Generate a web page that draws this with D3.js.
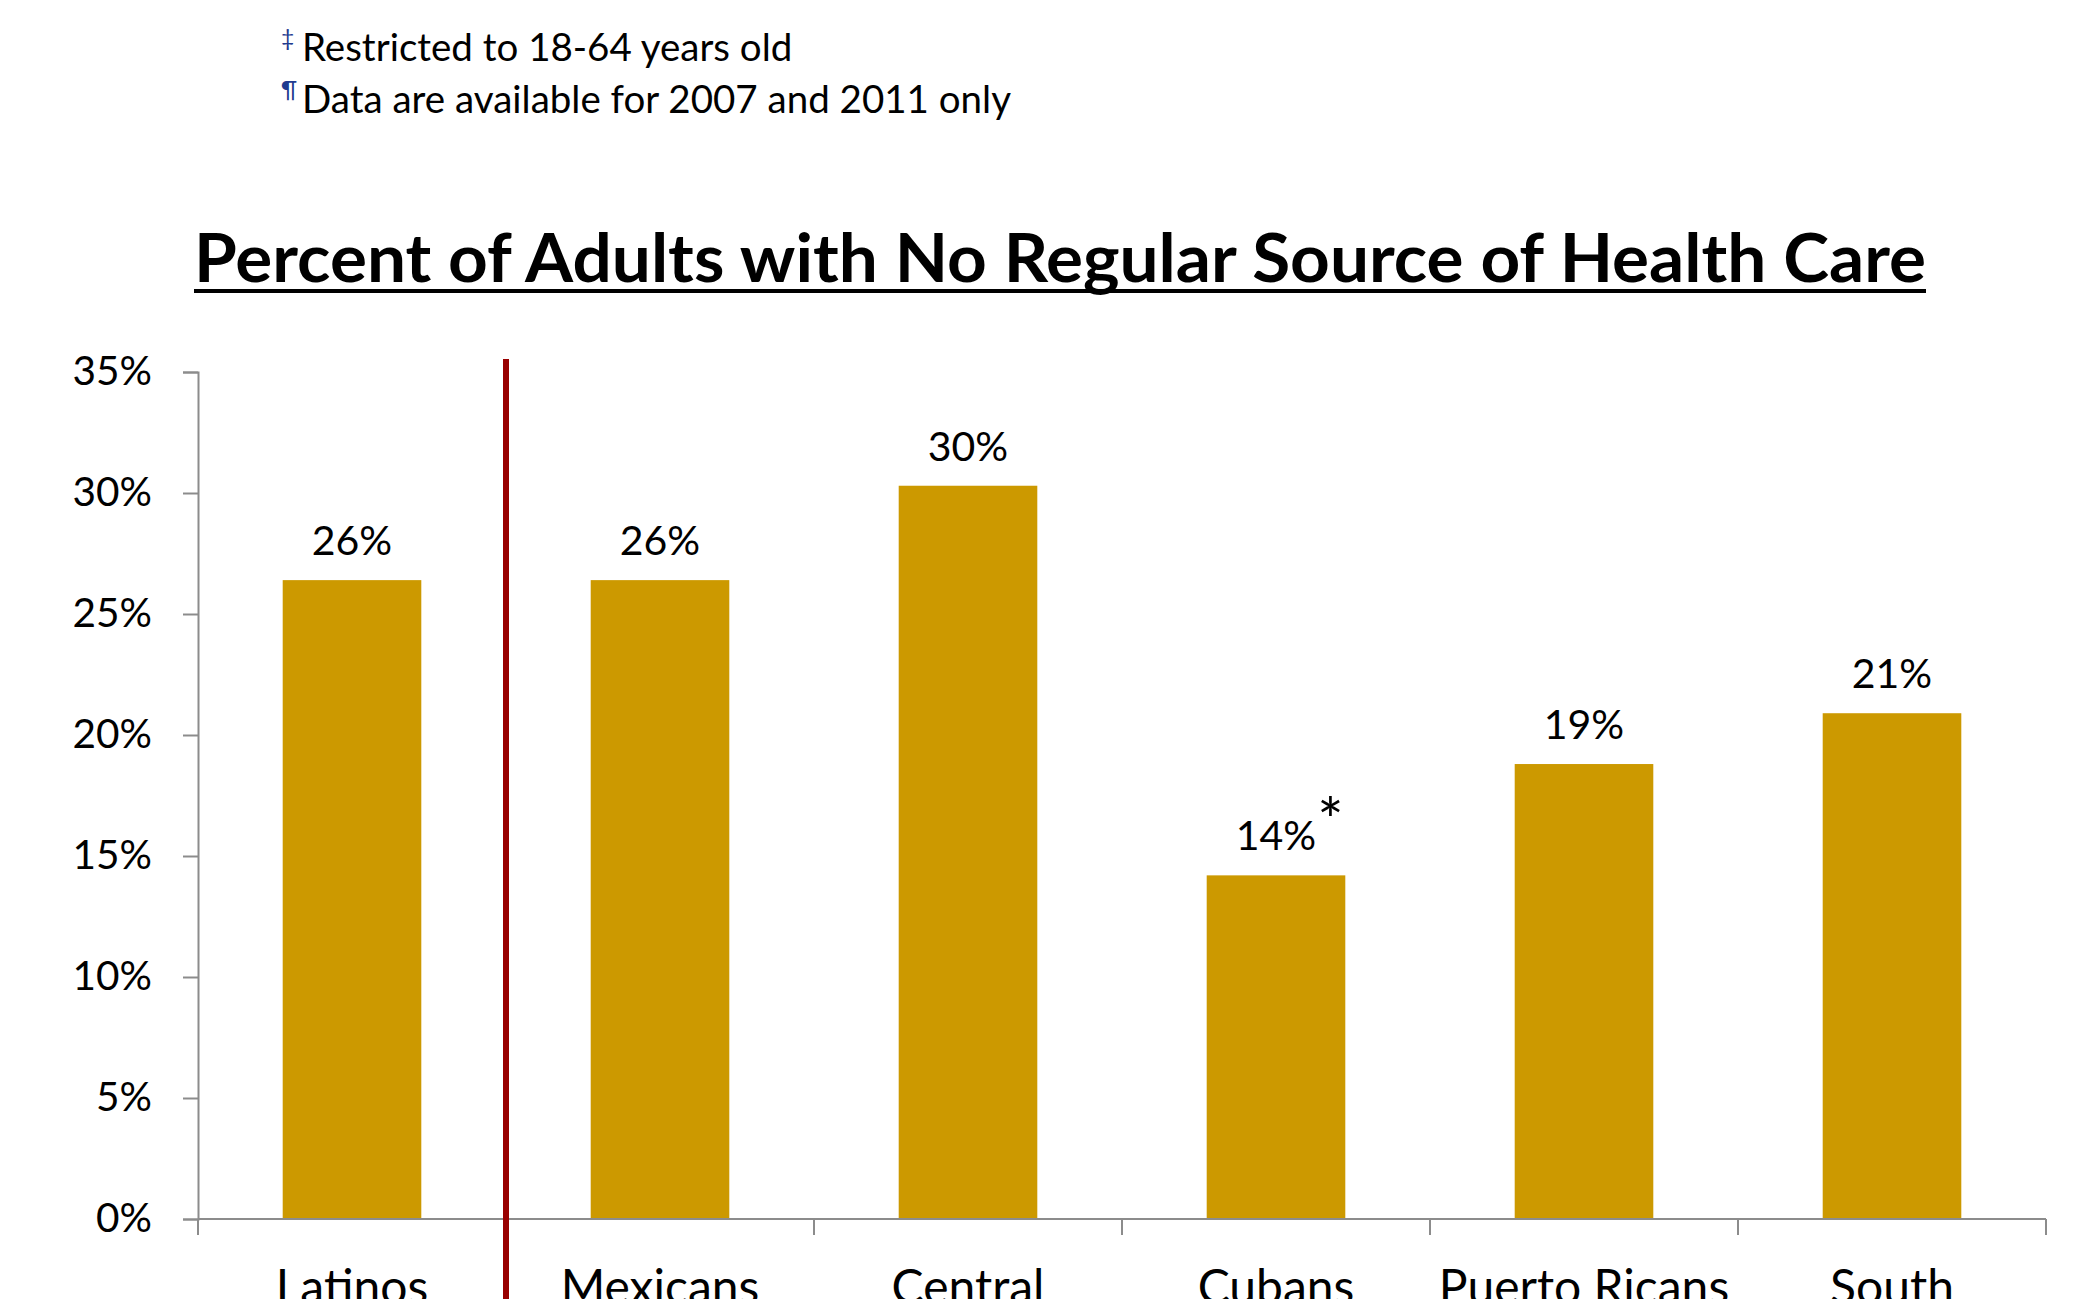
<!DOCTYPE html>
<html>
<head>
<meta charset="utf-8">
<script src="https://cdn.jsdelivr.net/npm/d3@7"></script>
<style>
  html, body { margin: 0; padding: 0; background: #fff; }
  svg { display: block; }
  text { font-family: Lato, "Open Sans", "Liberation Sans", sans-serif; }
</style>
</head>
<body>
<script>
// Percent of adults with no regular source of health care, by Latino subgroup
const categories = ["Latinos", "Mexicans", "Central American", "Cubans", "Puerto Ricans", "South American"];
const values = [26.4, 26.4, 30.3, 14.2, 18.8, 20.9];
const markers = ["", "", "", "*", "", ""];
const yTicks = [0, 5, 10, 15, 20, 25, 30, 35];
const notes = [
  { symbol: "\u2021", text: "Restricted to 18-64 years old" },
  { symbol: "\u00B6", text: "Data are available for 2007 and 2011 only" }
];
const title = "Percent of Adults with No Regular Source of Health Care";

const W = 2100, H = 1299;
const plot = { left: 198, right: 2046, top: 372, bottom: 1219 };
const barColor = "#CC9900";
const axisColor = "#8C8C8C";

const svg = d3.select("body").append("svg")
  .attr("width", W).attr("height", H);

// Footnotes
const noteG = svg.append("g");
notes.forEach((n, i) => {
  const base = 61 + i * 52;
  noteG.append("text")
    .attr("x", 281).attr("y", base - 15)
    .attr("font-size", 23).attr("fill", "#1F3B8F")
    .text(n.symbol);
  noteG.append("text")
    .attr("x", 302).attr("y", base)
    .attr("font-size", 38.5).attr("fill", "#000")
    .text(n.text);
});

// Title, underlined
svg.append("text")
  .attr("x", (194 + 1926) / 2).attr("y", 282)
  .attr("text-anchor", "middle")
  .attr("font-size", 66).attr("font-weight", 700)
  .attr("textLength", 1732).attr("lengthAdjust", "spacingAndGlyphs")
  .text(title);
svg.append("line")
  .attr("x1", 194).attr("x2", 1926)
  .attr("y1", 291).attr("y2", 291)
  .attr("stroke", "#000").attr("stroke-width", 4);

// Scales
const x = d3.scaleBand().domain(categories).range([plot.left, plot.right]).padding(0);
const y = d3.scaleLinear().domain([0, 35]).range([plot.bottom, plot.top]);
const barW = x.bandwidth() * 0.45;

// Y axis
const yAxis = svg.append("g")
  .attr("transform", `translate(${plot.left},0)`)
  .call(d3.axisLeft(y).tickValues(yTicks).tickFormat(d => d + "%").tickSize(15).tickPadding(31));
yAxis.select(".domain").attr("stroke", axisColor).attr("stroke-width", 2);
yAxis.selectAll(".tick line").attr("stroke", axisColor).attr("stroke-width", 2);
yAxis.selectAll(".tick text")
  .attr("font-size", 40.5).attr("fill", "#000")
  .attr("font-family", "Lato, 'Open Sans', sans-serif");

// Bars
svg.append("g").selectAll("rect")
  .data(categories)
  .join("rect")
  .attr("x", (d) => x(d) + (x.bandwidth() - barW) / 2)
  .attr("width", barW)
  .attr("y", (d, i) => y(values[i]))
  .attr("height", (d, i) => y(0) - y(values[i]))
  .attr("fill", barColor);

// X axis baseline and category boundary ticks
svg.append("line")
  .attr("x1", plot.left).attr("x2", plot.right)
  .attr("y1", y(0)).attr("y2", y(0))
  .attr("stroke", axisColor).attr("stroke-width", 2);
const boundaries = categories.map(c => x(c)).concat([x(categories[categories.length - 1]) + x.step()]);
svg.append("g").selectAll("line")
  .data(boundaries)
  .join("line")
  .attr("x1", d => d).attr("x2", d => d)
  .attr("y1", y(0)).attr("y2", y(0) + 16)
  .attr("stroke", axisColor).attr("stroke-width", 2);

// Category labels (two-line names wrap onto a second line)
const xLab = svg.append("g").selectAll("text")
  .data(categories)
  .join("text")
  .attr("x", d => x(d) + x.bandwidth() / 2)
  .attr("y", 1304)
  .attr("text-anchor", "middle")
  .attr("font-size", 48)
  .attr("fill", "#000");
xLab.each(function(d) {
  const words = d === "Puerto Ricans" ? [d] : d.split(" ");
  const t = d3.select(this);
  words.forEach((w, i) => {
    t.append("tspan").attr("x", x(d) + x.bandwidth() / 2).attr("dy", i === 0 ? 0 : "1.1em").text(w);
  });
});

// Value labels
const fmt = d3.format(".0f");
const valG = svg.append("g");
categories.forEach((c, i) => {
  const cx = x(c) + x.bandwidth() / 2;
  const t = valG.append("text")
    .attr("x", cx).attr("y", y(values[i]) - 25)
    .attr("text-anchor", "middle")
    .attr("font-size", 41).attr("fill", "#000")
    .text(fmt(values[i]) + "%");
  if (markers[i]) {
    const w = t.node().getComputedTextLength();
    valG.append("text")
      .attr("x", cx + w / 2 + 1).attr("y", y(values[i]) - 32)
      .attr("font-size", 62).attr("fill", "#000")
      .text(markers[i]);
  }
});

// Separator between all Latinos and subgroups
svg.append("line")
  .attr("x1", x("Mexicans")).attr("x2", x("Mexicans"))
  .attr("y1", 359).attr("y2", H)
  .attr("stroke", "#990000").attr("stroke-width", 6);
</script>
</body>
</html>
